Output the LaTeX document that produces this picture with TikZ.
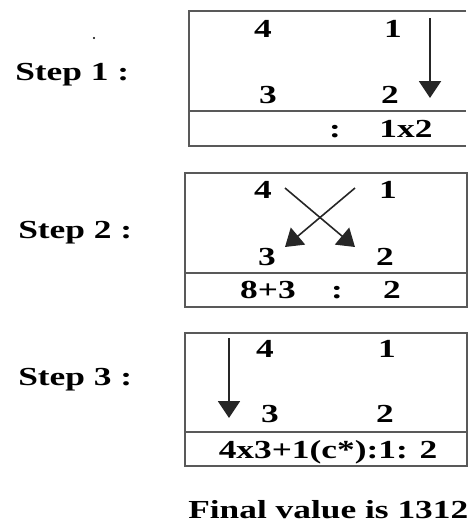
\documentclass[tikz,border=0pt]{standalone}
\usepackage{fontspec}
\setmainfont{Liberation Serif}
\usetikzlibrary{arrows.meta}
\begin{document}
\begin{tikzpicture}[x=1pt,y=-1pt,
    txt/.style={font=\fontsize{26}{30}\selectfont\bfseries, xscale=1.36, inner sep=0pt, anchor=base},
    frame/.style={draw=black!65, line width=1.6pt},
    bigarrow/.style={-{Triangle[length=17pt,width=22pt]}, line width=2pt, draw=black!85}]
    \useasboundingbox (0,0) rectangle (468,523);

    % Step 1
    \fill (94,38) circle (1.2pt);
    \node[txt, anchor=base west] (s1) at (15,80) {Step 1 :};
    \draw[frame] (466,11) -- (189,11) -- (189,146) -- (466,146);
    \draw[frame] (189,111) -- (466,111);
    \node[txt] (a4) at (263,37) {4};
    \node[txt] (a1) at (393,37) {1};
    \node[txt] (a3) at (268,103) {3};
    \node[txt] (a2) at (390,103) {2};
    \node[txt] (ac) at (335,137) {:};
    \node[txt] (ar) at (406,137) {1x2};
    \coordinate (atop) at (430,18);
    \coordinate (abot) at (430,98);
    \draw[bigarrow] (atop) -- (abot);

    % Step 2
    \node[txt, anchor=base west] (s2) at (18,238) {Step 2 :};
    \draw[frame] (185,173) rectangle (467,307);
    \draw[frame] (185,273) -- (467,273);
    \node[txt] (b4) at (263,198) {4};
    \node[txt] (b1) at (388,198) {1};
    \node[txt] (b3) at (267,265) {3};
    \node[txt] (b2) at (385,265) {2};
    \node[txt] (bl) at (268,298) {8+3};
    \node[txt] (bc) at (337,298) {:};
    \node[txt] (br) at (392,298) {2};
    \coordinate (bfrom4) at (285,188);
    \coordinate (bto2) at (355,247);
    \coordinate (bfrom1) at (355,188);
    \coordinate (bto3) at (285,247);
    \draw[bigarrow, line width=1.6pt] (bfrom4) -- (bto2);
    \draw[bigarrow, line width=1.6pt] (bfrom1) -- (bto3);

    % Step 3
    \node[txt, anchor=base west] (s3) at (18,385) {Step 3 :};
    \draw[frame] (185,333) rectangle (467,466);
    \draw[frame] (185,432) -- (467,432);
    \node[txt] (c4) at (265,357) {4};
    \node[txt] (c1) at (387,357) {1};
    \node[txt] (c3) at (270,422) {3};
    \node[txt] (c2) at (385,422) {2};
    \node[txt] (cr) at (328,458) {4x3+1(c*):1: 2};
    \coordinate (ctop) at (229,338);
    \coordinate (cbot) at (229,418);
    \draw[bigarrow] (ctop) -- (cbot);

    \node[txt, anchor=base west] (fin) at (188,518) {Final value is 1312};
\end{tikzpicture}
\end{document}
